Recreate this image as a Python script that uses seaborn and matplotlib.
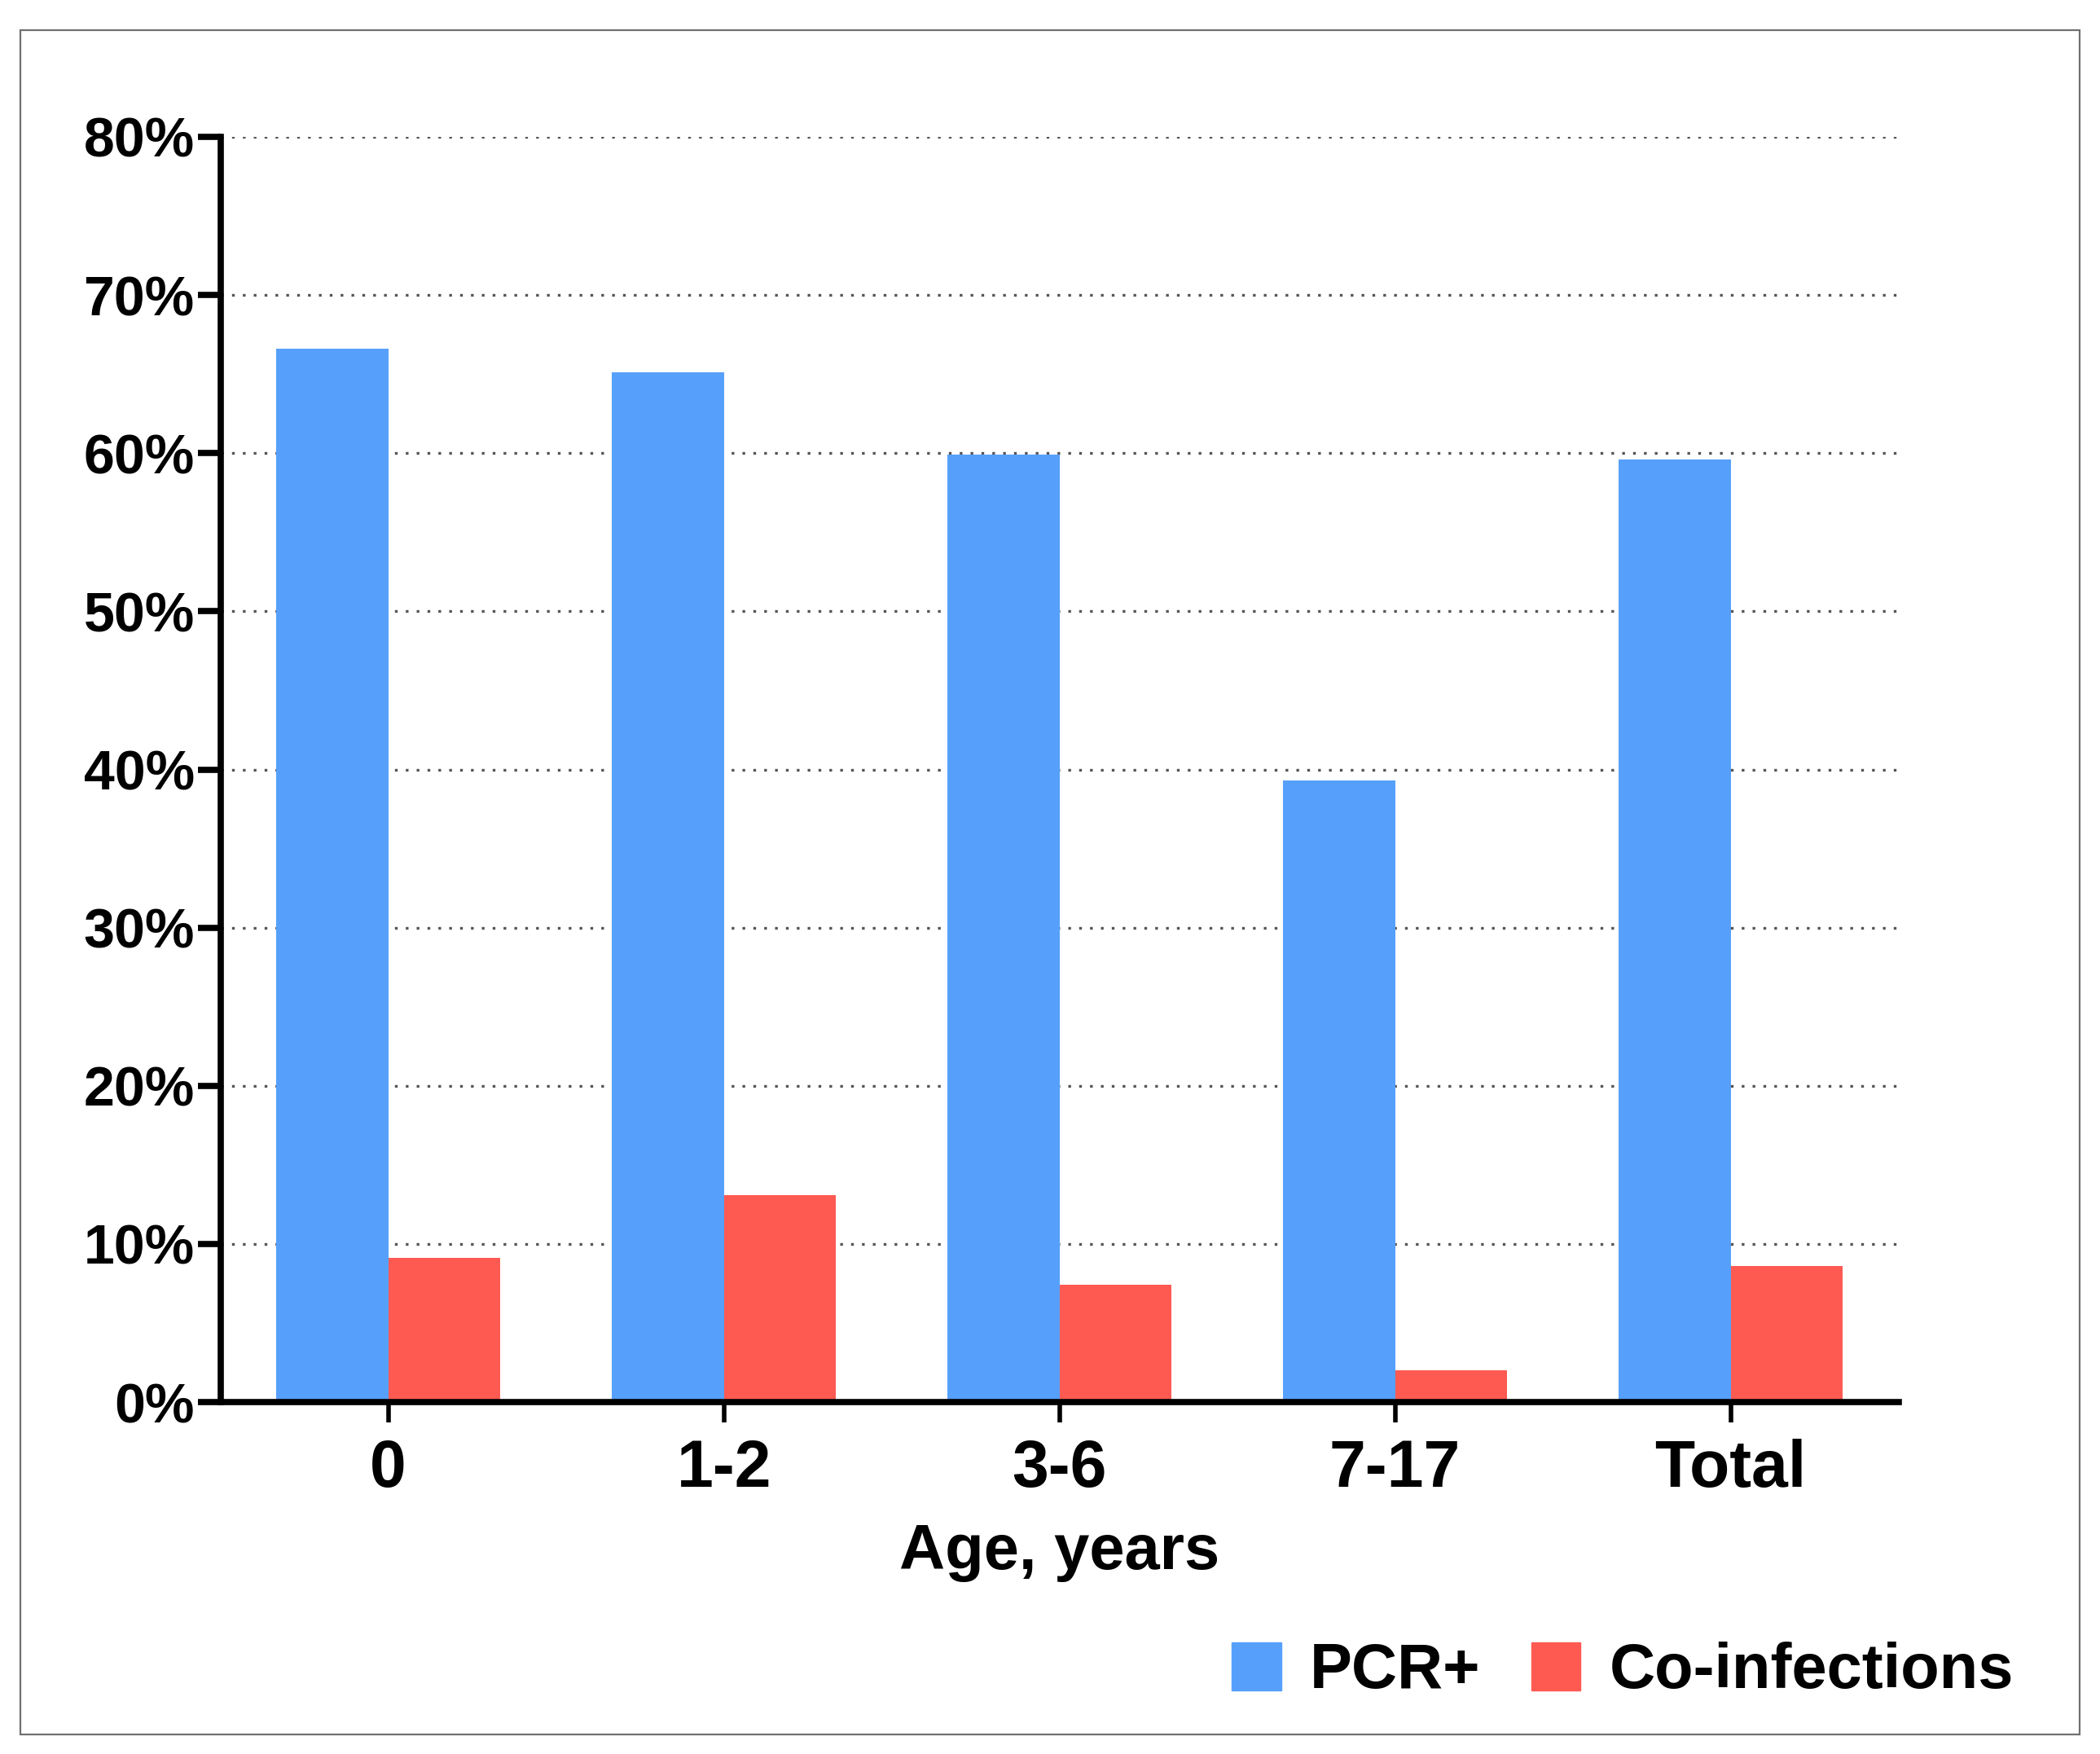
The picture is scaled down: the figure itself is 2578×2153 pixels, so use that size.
import pandas as pd
import numpy as np
import matplotlib
matplotlib.use("Agg")
import matplotlib.pyplot as plt
import seaborn as sns
from matplotlib.patches import Rectangle

# ── data (percent) ─────────────────────────────────────
age_groups = ["0", "1-2", "3-6", "7-17", "Total"]
pcr_pos = [66.6, 65.1, 59.9, 39.3, 59.6]
co_infections = [9.1, 13.1, 7.4, 2.0, 8.6]
series_names = ["PCR+", "Co-infections"]
y_ticks = [0, 10, 20, 30, 40, 50, 60, 70, 80]

df = pd.DataFrame({
    "age": age_groups * 2,
    "value": pcr_pos + co_infections,
    "series": [series_names[0]] * len(age_groups) + [series_names[1]] * len(age_groups),
})

sns.set_style("white")
plt.rcParams["font.family"] = ["Liberation Sans", "DejaVu Sans"]
plt.rcParams["font.weight"] = "bold"
plt.rcParams["text.color"] = "black"
plt.rcParams["xtick.color"] = "black"
plt.rcParams["ytick.color"] = "black"
plt.rcParams["axes.labelcolor"] = "black"

fig = plt.figure(figsize=(25.78, 21.53), dpi=100)
ax = fig.add_axes([0.105, 0.2006, 0.799, 0.7214])

# grey outer frame
fig.patches.append(Rectangle((0.0097, 0.011), 0.9806, 0.972, transform=fig.transFigure,
                             fill=False, edgecolor="#707070", linewidth=1.6, zorder=0))

# dotted grid behind bars
for t in y_ticks[1:]:
    ax.axhline(t, color="#555555", linestyle=(0, (1, 3)), linewidth=2.4, zorder=0)

sns.barplot(data=df, x="age", y="value", hue="series", order=age_groups,
            hue_order=series_names, palette=["#56A0FB", "#FE5A52"],
            width=0.667, saturation=1, linewidth=0, ax=ax, zorder=2)

ax.set_xlim(-0.5, 4.5)
ax.set_ylim(0, 80)
ax.set_yticks(y_ticks)
ax.set_yticklabels([f"{t}%" for t in y_ticks])

for s in ["top", "right"]:
    ax.spines[s].set_visible(False)
for s in ["left", "bottom"]:
    ax.spines[s].set_linewidth(5.5)
    ax.spines[s].set_color("black")
    ax.spines[s].set_zorder(3)

ax.tick_params(axis="y", length=20, width=5.5, pad=3, labelsize=49, left=True, colors="black")
ax.tick_params(axis="x", length=18, width=4, pad=14, labelsize=58, bottom=True, colors="black")
for lab in ax.get_xticklabels() + ax.get_yticklabels():
    lab.set_fontweight("bold")

ax.set_xlabel("Age, years", fontsize=56, fontweight="bold", labelpad=20, color="black")
ax.set_ylabel("")

ax.get_legend().remove()
handles = [Rectangle((0, 0), 1, 1, color=c) for c in ["#56A0FB", "#FE5A52"]]
fig.legend(handles, series_names, loc="center right", bbox_to_anchor=(0.986, 0.047),
           ncol=2, frameon=False, handlelength=0.78, handleheight=0.8,
           handletextpad=0.45, columnspacing=0.8, labelcolor="black",
           prop={"weight": "bold", "size": 56})

plt.savefig("out.png", dpi=100)
